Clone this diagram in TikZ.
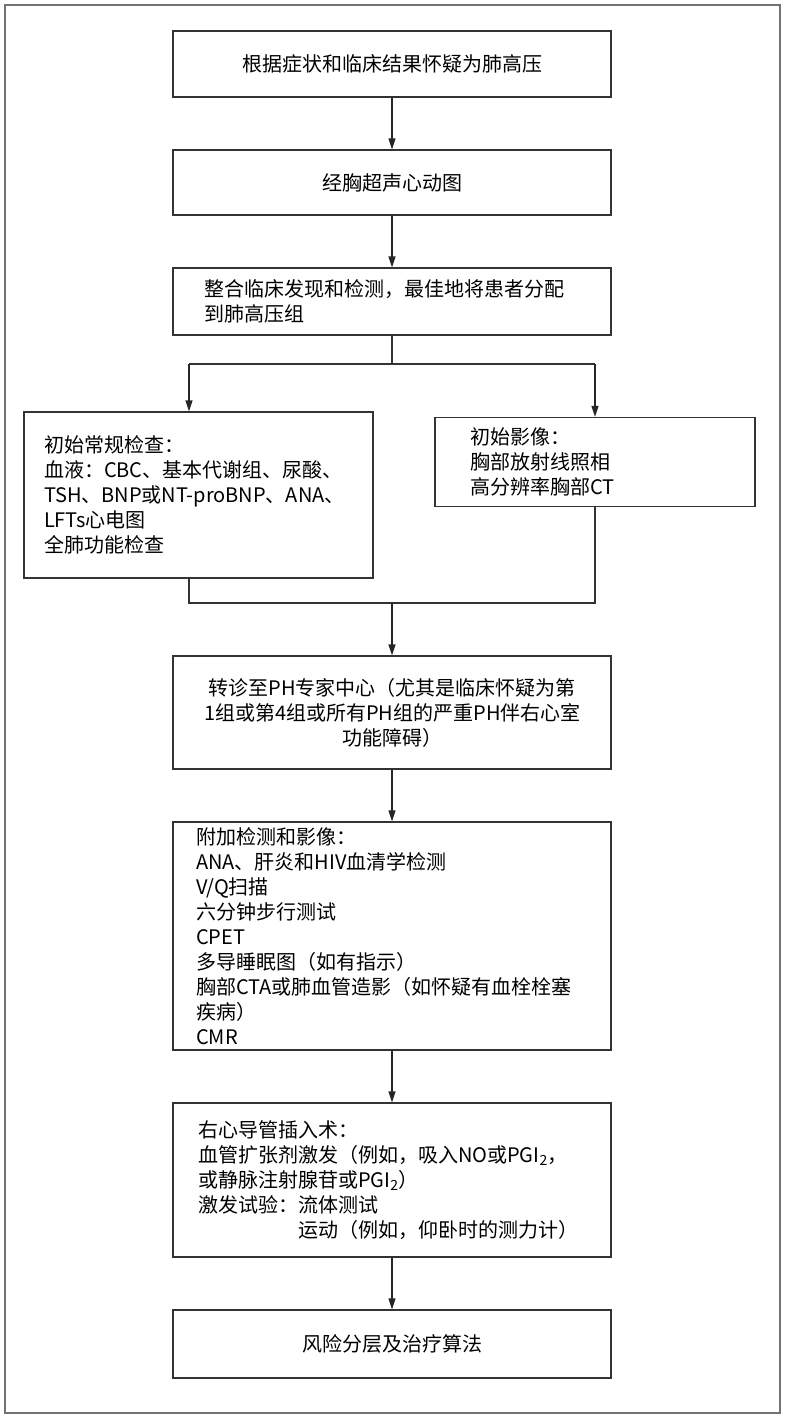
\documentclass[tikz,border=0pt]{standalone}
\usepackage{fontspec}
\setmainfont{Noto Sans CJK SC}
\usepackage{tikz}
\usetikzlibrary{arrows.meta, positioning, calc}

\begin{document}
\begin{tikzpicture}[
	x=1pt, y=-1pt,
	>={Triangle[length=11pt, width=7pt]},
	every node/.style={font=\fontsize{20}{25}\selectfont},
	stage/.style={rectangle, draw=black!80, line width=1.3pt, minimum width=438pt, align=center},
	listbox/.style={rectangle, draw=black!80, line width=1.3pt, align=left},
	flow/.style={->, line width=1.3pt, draw=black!85},
	link/.style={line width=1.3pt, draw=black!80}
	]
	
	% Frame
	\useasboundingbox (0,0) rectangle (785,1418);
	\draw[black!55, line width=2.5pt] (5,5) rectangle (780,1413);
	
	% Main column
	\node[stage, minimum height=66pt] (suspect) at (392,64) {根据症状和临床结果怀疑为肺高压};
	\node[stage, minimum height=65pt] (echo) at (392,182.5) {经胸超声心动图};
	\node[stage, minimum height=67pt, text width=376pt, inner xsep=31pt, align=left] (integrate) at (392,301.5) {整合临床发现和检测，最佳地将患者分配\\到肺高压组};
	
	% Branch
	\coordinate (split) at (392,364);
	\coordinate (splitL) at (189,364);
	\coordinate (splitR) at (595,364);
	
	\node[listbox, minimum width=349pt, minimum height=166pt, text width=309pt, inner xsep=20pt] (workup) at (198.5,495) {初始常规检查：\\血液：CBC、基本代谢组、尿酸、\\\mbox{TSH、BNP或NT-proBNP、ANA、}\\LFTs心电图\\全肺功能检查};
	\node[listbox, minimum width=320pt, minimum height=89pt, text width=250pt, inner xsep=35pt] (imaging) at (595,462) {初始影像：\\胸部放射线照相\\高分辨率胸部CT};
	
	% Merge
	\coordinate (mergeL) at (189,603);
	\coordinate (mergeR) at (595,603);
	\coordinate (merge) at (392,603);
	
	\node[stage, minimum height=113pt, text width=376pt, inner xsep=31pt] (referral) at (392,712.5) {转诊至PH专家中心（尤其是临床怀疑为第\\1组或第4组或所有PH组的严重PH伴右心室\\功能障碍）};
	\node[listbox, minimum width=438pt, minimum height=228pt, text width=392pt, inner xsep=23pt, inner ysep=2pt] (extra) at (392,936) {附加检测和影像：\\ANA、肝炎和HIV血清学检测\\V/Q扫描\\六分钟步行测试\\CPET\\多导睡眠图（如有指示）\\胸部CTA或肺血管造影（如怀疑有血栓栓塞\\疾病）\\CMR};
	\node[listbox, minimum width=438pt, minimum height=154pt, text width=388pt, inner xsep=25pt] (rhc) at (392,1180) {右心导管插入术：\\血管扩张剂激发（例如，吸入NO或PGI\textsubscript{2}，\\或静脉注射腺苷或PGI\textsubscript{2}）\\激发试验：流体测试\\\phantom{激发试验：}运动（例如，仰卧时的测力计）};
	\node[stage, minimum height=68pt] (risk) at (392,1344) {风险分层及治疗算法};
	
	% Connectors
	\draw[flow] (suspect) -- (echo);
	\draw[flow] (echo) -- (integrate);
	\draw[link] (integrate) -- (split);
	\draw[link] (splitL) -- (splitR);
	\draw[flow] (splitL) -- (splitL |- workup.north);
	\draw[flow] (splitR) -- (imaging);
	\draw[link] (workup.south -| mergeL) -- (mergeL) -- (mergeR) -- (imaging);
	\draw[flow] (merge) -- (referral);
	\draw[flow] (referral) -- (extra);
	\draw[flow] (extra) -- (rhc);
	\draw[flow] (rhc) -- (risk);
	
\end{tikzpicture}
\end{document}
